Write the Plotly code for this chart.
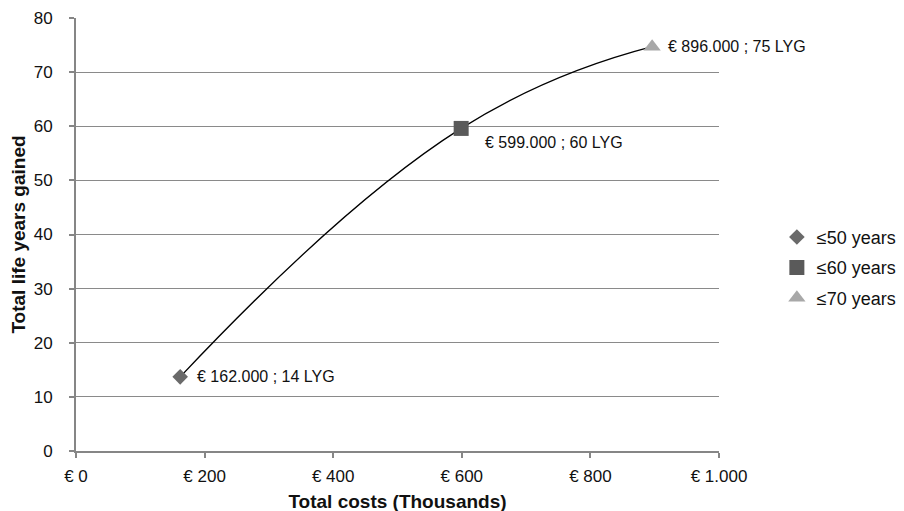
import plotly.graph_objects as go

costs = [162, 599, 896]          # thousands of euro
lyg = [13.7, 59.6, 74.7]
series_names = ["≤50 years", "≤60 years", "≤70 years"]
labels = ["€ 162.000 ; 14 LYG", "€ 599.000 ; 60 LYG", "€ 896.000 ; 75 LYG"]
symbols = ["diamond", "square", "triangle-up"]
colors = ["#6a6a6a", "#5a5a5a", "#a8a8a8"]
sizes = [12, 15, 15]
x_tickvals = [0, 200, 400, 600, 800, 1000]
x_ticktext = ["€ 0", "€ 200", "€ 400", "€ 600", "€ 800", "€ 1.000"]

FONT = "Liberation Sans, Arial"
label_xshift = [15, 22, 14]
label_yshift = [0, -14, 0]

fig = go.Figure()
fig.add_trace(go.Scatter(x=costs, y=lyg, mode="lines",
                         line=dict(color="black", width=1.3, shape="spline", smoothing=1.3),
                         showlegend=False, hoverinfo="skip"))
for i in range(3):
    fig.add_trace(go.Scatter(x=[costs[i]], y=[lyg[i]], mode="markers", name=series_names[i],
                             legendgroup=f"g{i}",
                             marker=dict(symbol=symbols[i], color=colors[i], size=sizes[i],
                                         line=dict(width=0))))
for i in range(3):
    fig.add_annotation(x=costs[i], y=lyg[i], text=labels[i], showarrow=False,
                       xanchor="left", yanchor="middle",
                       xshift=label_xshift[i], yshift=label_yshift[i],
                       font=dict(family=FONT, size=16, color="#111"))

fig.update_layout(
    width=904, height=511,
    margin=dict(l=68, r=193, t=10, b=67.5, autoexpand=False),
    paper_bgcolor="white", plot_bgcolor="white",
    font=dict(family=FONT, size=17, color="#111"),
    legend=dict(x=1.09, y=0.423, xanchor="left", yanchor="middle",
                font=dict(size=18), itemwidth=30, tracegroupgap=4,
                bgcolor="rgba(0,0,0,0)"),
)
fig.update_xaxes(range=[0, 1000], tickvals=x_tickvals, ticktext=x_ticktext, automargin=False,
                 showgrid=False, zeroline=False, showline=True, linecolor="#868686", linewidth=2,
                 ticks="outside", ticklen=5, tickcolor="#868686", tickwidth=1.5,
                 tickfont=dict(size=17), ticklabelstandoff=4,
                 title=dict(text="<b>Total costs (Thousands)</b>", font=dict(size=19), standoff=9))
fig.update_yaxes(range=[0, 80], tickvals=list(range(0, 81, 10)), automargin=False,
                 showgrid=True, gridcolor="#8a8a8a", gridwidth=1, zeroline=False,
                 showline=True, linecolor="#868686", linewidth=2,
                 ticks="outside", ticklen=5, tickcolor="#868686", tickwidth=1.5,
                 tickfont=dict(size=17), ticklabelstandoff=13,
                 title=dict(text="<b>Total life years gained</b>", font=dict(size=19), standoff=15))

fig.write_html("out.html")
